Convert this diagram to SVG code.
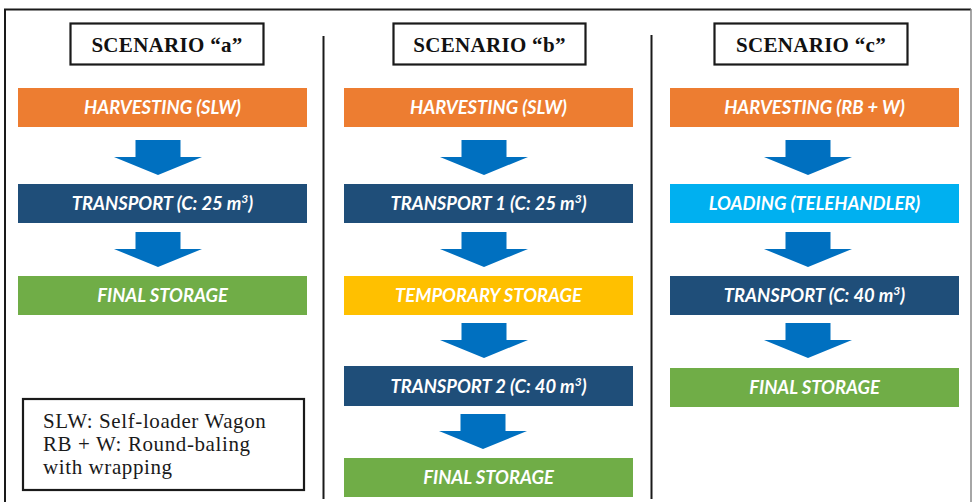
<svg xmlns="http://www.w3.org/2000/svg" width="972" height="502" viewBox="0 0 972 502">
  <style>
    .title-box { fill: #ffffff; stroke: #1a1a1a; stroke-width: 2.2; }
    .title { font-family: "Liberation Serif", "Times New Roman", serif; font-weight: bold; font-size: 21px; letter-spacing: 0.3px; fill: #111111; text-anchor: middle; }
    .bar-text { font-family: Lato, "Liberation Sans", sans-serif; font-weight: bold; font-style: italic; font-size: 18.4px; fill: #ffffff; text-anchor: middle; }
    .sup { font-size: 12px; }
    .orange { fill: #ED7D31; }
    .navy { fill: #1F4E79; }
    .green { fill: #70AD47; }
    .yellow { fill: #FFC000; }
    .cyan { fill: #00B0F0; }
    .arrow { fill: #0070C0; }
    .sep { stroke: #1a1a1a; stroke-width: 2; }
    .legend-box { fill: #ffffff; stroke: #1a1a1a; stroke-width: 2.2; }
    .legend { font-family: "Liberation Serif", "Times New Roman", serif; font-size: 21px; letter-spacing: 0.6px; fill: #1a1a1a; }
  </style>
  <defs>
    <!-- block arrow pointing down, origin at centre of shaft top -->
    <path id="down" d="M -22.5 0 H 22.5 V 17 H 44 L 0 35 L -44 17 H -22.5 Z"/>
  </defs>

  <rect width="972" height="502" fill="#ffffff"/>

  <!-- outer frame and column separators -->
  <g id="frame">
    <path d="M 5 502 V 9.5 H 971" fill="none" stroke="#1a1a1a" stroke-width="2"/>
    <line x1="971" y1="9" x2="971" y2="502" stroke="#888888" stroke-width="1.5"/>
    <line class="sep" x1="323.5" y1="36" x2="323.5" y2="499"/>
    <line class="sep" x1="651.5" y1="35" x2="651.5" y2="499"/>
  </g>

  <!-- scenario a -->
  <g id="title-a">
    <rect class="title-box" x="70.5" y="23.5" width="193" height="41"/>
    <text class="title" x="167" y="52">SCENARIO “a”</text>
  </g>
  <g id="a-harvesting">
    <rect class="orange" x="18" y="88" width="289" height="39"/>
    <text class="bar-text" x="162.5" y="114">HARVESTING (SLW)</text>
  </g>
  <g id="a-transport">
    <rect class="navy" x="18" y="184" width="289" height="39"/>
    <text class="bar-text" x="162.5" y="210">TRANSPORT (C: 25 m<tspan class="sup" dy="-7">3</tspan><tspan dy="7">)</tspan></text>
  </g>
  <g id="a-final">
    <rect class="green" x="18" y="276" width="289" height="39"/>
    <text class="bar-text" x="162.5" y="302">FINAL STORAGE</text>
  </g>

  <!-- scenario b -->
  <g id="title-b">
    <rect class="title-box" x="393.5" y="23.5" width="192" height="41"/>
    <text class="title" x="489.5" y="52">SCENARIO “b”</text>
  </g>
  <g id="b-harvesting">
    <rect class="orange" x="344" y="88" width="289" height="39"/>
    <text class="bar-text" x="488.5" y="114">HARVESTING (SLW)</text>
  </g>
  <g id="b-transport1">
    <rect class="navy" x="344" y="184" width="289" height="39"/>
    <text class="bar-text" x="488.5" y="210">TRANSPORT 1 (C: 25 m<tspan class="sup" dy="-7">3</tspan><tspan dy="7">)</tspan></text>
  </g>
  <g id="b-temporary">
    <rect class="yellow" x="344" y="276" width="289" height="39"/>
    <text class="bar-text" x="488.5" y="302">TEMPORARY STORAGE</text>
  </g>
  <g id="b-transport2">
    <rect class="navy" x="344" y="366" width="289" height="40"/>
    <text class="bar-text" x="488.5" y="393">TRANSPORT 2 (C: 40 m<tspan class="sup" dy="-7">3</tspan><tspan dy="7">)</tspan></text>
  </g>
  <g id="b-final">
    <rect class="green" x="344" y="458" width="289" height="39"/>
    <text class="bar-text" x="488.5" y="484">FINAL STORAGE</text>
  </g>

  <!-- scenario c -->
  <g id="title-c">
    <rect class="title-box" x="714.5" y="23.5" width="193" height="41"/>
    <text class="title" x="811" y="52">SCENARIO “c”</text>
  </g>
  <g id="c-harvesting">
    <rect class="orange" x="670" y="88" width="289" height="39"/>
    <text class="bar-text" x="814.5" y="114">HARVESTING (RB + W)</text>
  </g>
  <g id="c-loading">
    <rect class="cyan" x="670" y="184" width="289" height="39"/>
    <text class="bar-text" x="814.5" y="210">LOADING (TELEHANDLER)</text>
  </g>
  <g id="c-transport">
    <rect class="navy" x="670" y="276" width="289" height="39"/>
    <text class="bar-text" x="814.5" y="302">TRANSPORT (C: 40 m<tspan class="sup" dy="-7">3</tspan><tspan dy="7">)</tspan></text>
  </g>
  <g id="c-final">
    <rect class="green" x="670" y="368" width="289" height="39"/>
    <text class="bar-text" x="814.5" y="394">FINAL STORAGE</text>
  </g>

  <!-- legend -->
  <g id="legend">
    <rect class="legend-box" x="23" y="399" width="281" height="91"/>
    <text class="legend" x="43" y="428">SLW: Self-loader Wagon</text>
    <text class="legend" x="43" y="451">RB + W: Round-baling</text>
    <text class="legend" x="43" y="474">with wrapping</text>
  </g>

  <!-- flow arrows -->
  <g id="connectors" class="arrow">
    <use href="#down" x="158" y="140"/>
    <use href="#down" x="158" y="232"/>
    <use href="#down" x="484" y="140"/>
    <use href="#down" x="484" y="232"/>
    <use href="#down" x="484" y="323"/>
    <use href="#down" x="483" y="414"/>
    <use href="#down" x="808" y="140"/>
    <use href="#down" x="808" y="232"/>
    <use href="#down" x="808" y="323"/>
  </g>
</svg>
